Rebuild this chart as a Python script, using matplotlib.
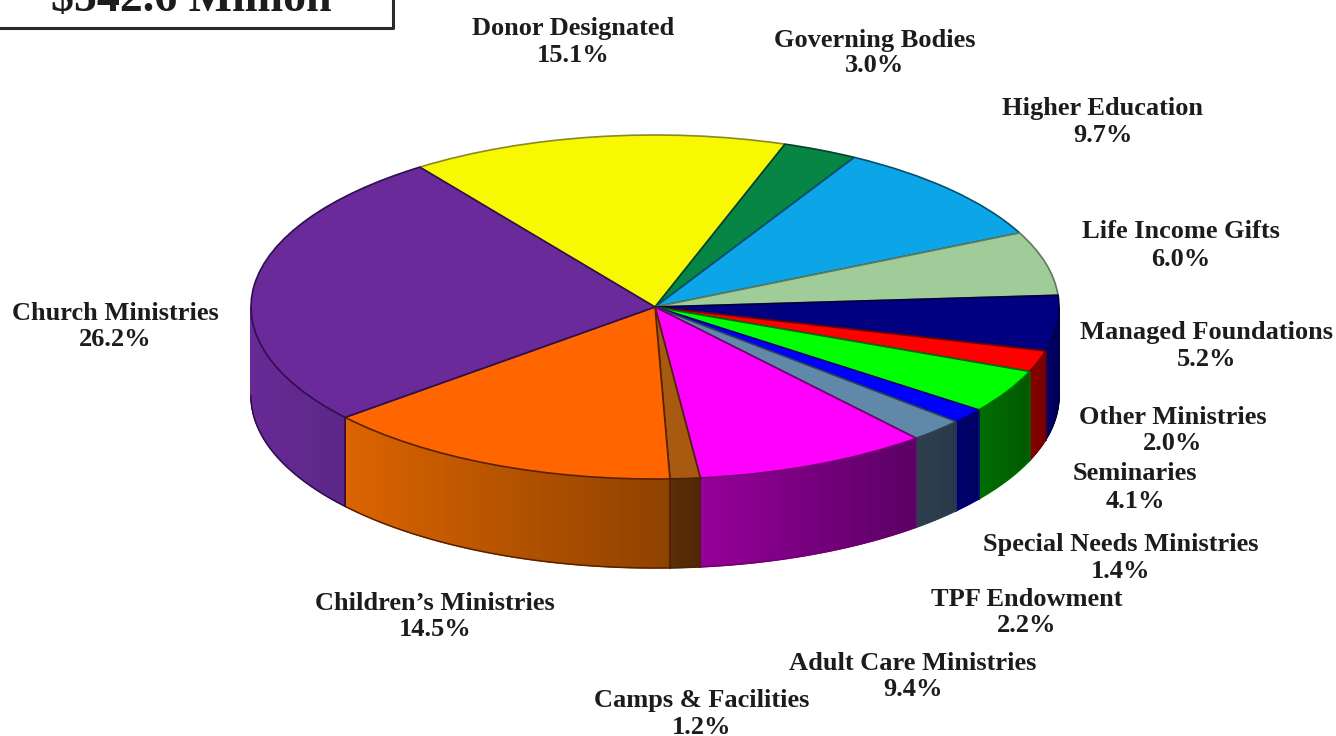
import numpy as np
import matplotlib
matplotlib.use("Agg")
import matplotlib.pyplot as plt
from matplotlib.collections import PolyCollection
from matplotlib.colors import to_rgb

plt.rcParams["font.family"] = ["Liberation Serif", "DejaVu Serif"]

# data, clockwise from Donor Designated
categories = ["Donor Designated", "Governing Bodies", "Higher Education", "Life Income Gifts",
              "Managed Foundations", "Other Ministries", "Seminaries", "Special Needs Ministries",
              "TPF Endowment", "Adult Care Ministries", "Camps & Facilities",
              "Children\u2019s Ministries", "Church Ministries"]
shares = [15.1, 3.0, 9.7, 6.0, 5.2, 2.0, 4.1, 1.4, 2.2, 9.4, 1.2, 14.5, 26.2]
title_text = "$542.6 Million"

top_colors = ["#F8F800", "#078545", "#0CA6E8", "#A0CC9A", "#000080", "#FF0000", "#00FF00",
              "#0000FF", "#6088A8", "#FF00FF", "#A85A10", "#FF6600", "#6A2A9A"]
# wall colours (left end, right end)
wall_left = ["#000000", "#000000", "#000000", "#000000", "#000078", "#8A0000", "#006E00",
             "#00006E", "#2E4050", "#96009A", "#5C2E06", "#DC6400", "#682A96"]
wall_right = ["#000000", "#000000", "#000000", "#000000", "#000050", "#780000", "#005A00",
              "#000064", "#283848", "#5A0064", "#502804", "#8E4200", "#5C2688"]
edge_colors = ["#8A8A20", "#04402A", "#064E70", "#5E7A5A", "#000040", "#700000", "#007000",
               "#000080", "#2E4256", "#700070", "#4A2408", "#5A2000", "#2E0E50"]

# layout in pixels of the 1336x736 figure
W, H = 1336, 736
CX, CY = 655, 307
RX, RY = 404, 172
DEPTH = 89 / RY
START = 125.6

# label centres: x, y of first line, y of second line
label_pos = [(573, 29, 55), (875, 40, 66), (1103, 109, 135), (1181, 232, 259), (1207, 333, 360),
             (1173, 417, 443), (1135, 474, 501), (1121, 545, 571), (1027, 599, 625),
             (913, 663, 689), (702, 700, 727), (435, 603, 630), (115, 314, 340)]

fig = plt.figure(figsize=(W / 100, H / 100), dpi=100, facecolor="white")

# unit circle on this axes comes out as the tilted ellipse
ax = fig.add_axes([0, 0, 1, 1])
wedges, _ = ax.pie(shares, startangle=START, counterclock=False, colors=top_colors,
                   radius=1, wedgeprops={"linewidth": 1.2})
for w, ec in zip(wedges, edge_colors):
    w.set_edgecolor(ec)
    w.set_zorder(5)
ax.set_aspect("auto")
ax.set_xlim(-CX / RX, (W - CX) / RX)
ax.set_ylim(-(H - CY) / RY, CY / RY)
ax.axis("off")

# side wall, only the front half of the disc
ends = START - np.cumsum(shares) * 3.6
starts = np.r_[START, ends[:-1]]
for a0, a1, cl, cr, ec in zip(starts, ends, wall_left, wall_right, edge_colors):
    # angles measured clockwise, bring into 180..360 window
    lo, hi = (a1 + 360) % 360, (a0 + 360) % 360
    if hi < lo:
        hi += 360
    lo, hi = max(lo, 180), min(hi, 360)
    if hi <= lo:
        continue
    th = np.radians(np.linspace(lo, hi, max(int((hi - lo) * 2), 2) + 1))
    x, y = np.cos(th), np.sin(th)
    t = (x - x.min()) / (x.max() - x.min())
    cl, cr = np.array(to_rgb(cl)), np.array(to_rgb(cr))
    polys, cols = [], []
    for i in range(len(th) - 1):
        polys.append([(x[i], y[i]), (x[i + 1], y[i + 1]),
                      (x[i + 1], y[i + 1] - DEPTH), (x[i], y[i] - DEPTH)])
        cols.append(cl + (cr - cl) * (t[i] + t[i + 1]) / 2)
    ax.add_collection(PolyCollection(polys, facecolors=cols, edgecolors=cols, linewidths=0.8, zorder=2))
    ax.plot(x, y - DEPTH, color=ec, lw=1.1, zorder=3)
    for k in ([0, -1] if lo > 180 and hi < 360 else ([0] if lo > 180 else [-1] if hi < 360 else [])):
        ax.plot([x[k], x[k]], [y[k], y[k] - DEPTH], color=ec, lw=1.1, zorder=3)

# labels and title box in pixel coordinates
pix = fig.add_axes([0, 0, 1, 1], facecolor="none")
pix.set_xlim(0, W)
pix.set_ylim(H, 0)
pix.axis("off")

for name, share, (lx, y1, y2) in zip(categories, shares, label_pos):
    pix.text(lx, y1, name, ha="center", va="center", fontsize=19, fontweight="bold", color="#1c1c1c")
    pix.text(lx, y2, f"{share:.1f}%", ha="center", va="center", fontsize=19, fontweight="bold", color="#1c1c1c")

pix.plot([-5, 393, 393], [27.5, 27.5, -5], color="#2a2a2a", lw=2.2)
pix.text(191, 11, title_text, ha="center", va="baseline", fontsize=33, fontweight="bold", color="#1c1c1c")

fig.savefig("out.png", dpi=100)
